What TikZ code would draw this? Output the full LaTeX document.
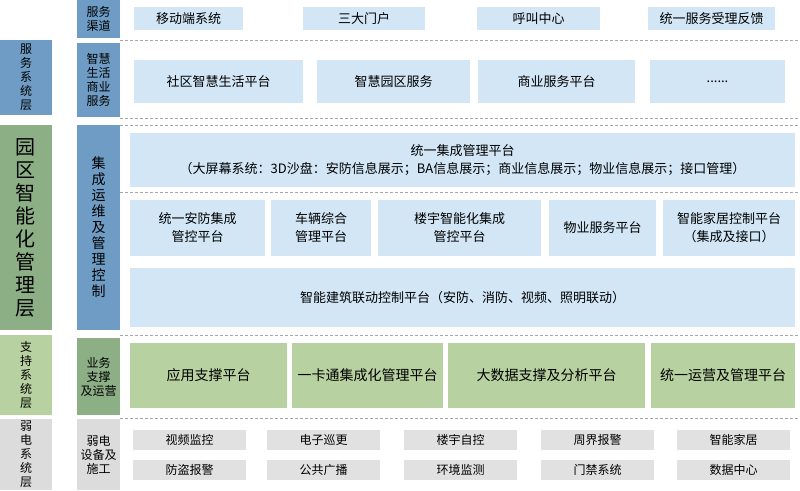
\documentclass[tikz,border=0pt]{standalone}
\usepackage{fontspec}
\setmainfont{Noto Sans CJK SC}
\definecolor{hblue}{HTML}{6E9CC4}
\definecolor{lblue}{HTML}{D2E6F6}
\definecolor{hgreen}{HTML}{8CAF86}
\definecolor{lgreen}{HTML}{B7D1A0}
\definecolor{lgray}{HTML}{DCDCDC}
\begin{document}
\begin{tikzpicture}[x=1pt,y=-1pt,
    hdr/.style={fill=hblue,align=center,inner sep=0pt,font=\fontsize{12}{14}\selectfont},
    ghdr/.style={hdr,fill=hgreen},
    lghdr/.style={hdr,fill=lgreen},
    grhdr/.style={hdr,fill=lgray},
    bbox/.style={fill=lblue,align=center,inner sep=0pt,font=\fontsize{13}{18}\selectfont},
    gbox/.style={bbox,fill=lgreen,font=\fontsize{14}{17}\selectfont},
    ybox/.style={bbox,fill=lgray!85,font=\fontsize{12}{14}\selectfont},
    sep/.style={densely dashed,gray!70,line width=1pt}]
    \useasboundingbox (0,0) rectangle (800,490);
    % Define helper for boxes by corners
    \newcommand{\cell}[6]{\node[#1,minimum width=#4-#2,minimum height=#5-#3] (#6) at ({(#2+#4)/2},{(#3+#5)/2})}

    % Left column
    \cell{hdr}{0}{40}{52}{115}{lsvc} {服\\务\\系\\统\\层};
    \cell{ghdr,font=\fontsize{20}{23}\selectfont}{0}{125}{52}{330}{lmgt} {园\\区\\智\\能\\化\\管\\理\\层};
    \cell{lghdr}{0}{335}{52}{415}{lsup} {支\\持\\系\\统\\层};
    \cell{grhdr}{0}{419}{52}{490}{lwe} {弱\\电\\系\\统\\层};

    % Second column
    \cell{hdr}{77}{0}{120}{38}{hchan} {服务\\渠道};
    \cell{hdr}{77}{43}{120}{117}{hlife} {智慧\\生活\\商业\\服务};
    \cell{hdr,font=\fontsize{14}{16}\selectfont}{77}{125}{120}{330}{hops} {集\\成\\运\\维\\及\\管\\理\\控\\制};
    \cell{ghdr}{77}{338}{120}{415}{hbiz} {业务\\支撑\\及运营};
    \cell{grhdr}{77}{419}{120}{490}{hdev} {弱电\\设备及\\施工};

    % Separators
    \foreach \y in {40,118,125,192,335,418}
        \draw[sep] (120,\y) -- (800,\y);

    % Service channels
    \cell{bbox}{134}{7}{243}{30}{mob} {移动端系统};
    \cell{bbox}{303}{7}{425}{30}{portal} {三大门户};
    \cell{bbox}{477}{7}{600}{30}{call} {呼叫中心};
    \cell{bbox}{648}{7}{775}{30}{feed} {统一服务受理反馈};

    % Smart life services
    \cell{bbox}{134}{60}{303}{103}{comm} {社区智慧生活平台};
    \cell{bbox}{317}{60}{470}{103}{park} {智慧园区服务};
    \cell{bbox}{478}{60}{635}{103}{biz} {商业服务平台};
    \cell{bbox}{650}{60}{785}{103}{more} {......};

    % Integrated management
    \cell{bbox}{130}{133}{795}{187}{integ} {统一集成管理平台\\（大屏幕系统：3D沙盘：安防信息展示；BA信息展示；商业信息展示；物业信息展示；接口管理）};
    \cell{bbox}{130}{200}{265}{256}{sec} {统一安防集成\\管控平台};
    \cell{bbox}{271}{200}{371}{256}{car} {车辆综合\\管理平台};
    \cell{bbox}{378}{200}{541}{256}{bldg} {楼宇智能化集成\\管控平台};
    \cell{bbox}{549}{200}{656}{256}{prop} {物业服务平台};
    \cell{bbox}{663}{200}{795}{256}{home} {智能家居控制平台\\（集成及接口）};
    \cell{bbox}{130}{268}{795}{327}{link} {智能建筑联动控制平台（安防、消防、视频、照明联动）};

    % Support platforms
    \cell{gbox}{130}{343}{287}{408}{app} {应用支撑平台};
    \cell{gbox}{292}{343}{443}{408}{card} {一卡通集成化管理平台};
    \cell{gbox}{448}{343}{645}{408}{data} {大数据支撑及分析平台};
    \cell{gbox}{651}{343}{795}{408}{oper} {统一运营及管理平台};

    % Weak current devices
    \cell{ybox}{133}{430}{246}{450}{d1} {视频监控};
    \cell{ybox}{267}{430}{380}{450}{d2} {电子巡更};
    \cell{ybox}{404}{430}{517}{450}{d3} {楼宇自控};
    \cell{ybox}{541}{430}{654}{450}{d4} {周界报警};
    \cell{ybox}{677}{430}{790}{450}{d5} {智能家居};
    \cell{ybox}{133}{460}{246}{480}{d6} {防盗报警};
    \cell{ybox}{267}{460}{380}{480}{d7} {公共广播};
    \cell{ybox}{404}{460}{517}{480}{d8} {环境监测};
    \cell{ybox}{541}{460}{654}{480}{d9} {门禁系统};
    \cell{ybox}{677}{460}{790}{480}{d10} {数据中心};
\end{tikzpicture}
\end{document}
